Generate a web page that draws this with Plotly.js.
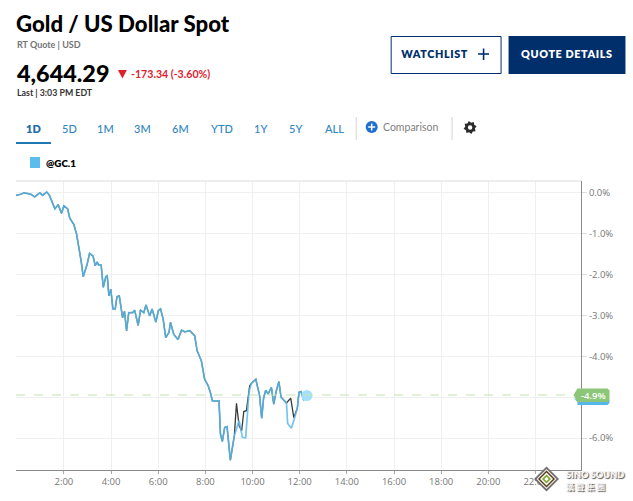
<!DOCTYPE html>
<html><head><meta charset="utf-8">
<script src="https://cdn.plot.ly/plotly-3.0.1.min.js"></script>
<style>html,body{margin:0;padding:0;background:#fff}#chart{width:633px;height:501px}</style>
</head><body><div id="chart"></div>
<script>
// Shared part of both series up to the first split
const hoursA=[-0.03,0.14,0.31,0.47,0.59,0.76,0.98,1.10,1.27,1.38,1.49,1.62,1.76,1.90,2.00,2.16,2.25,2.42,2.54,2.65,2.73,2.82,2.99,3.09,3.24,3.33,3.41,3.47,3.58,3.67,3.78,3.84,3.91,3.99,4.08,4.18,4.25,4.35,4.49,4.57,4.66,4.75,4.92,5.00,5.15,5.25,5.39,5.48,5.64,5.74,5.90,6.01,6.10,6.21,6.32,6.46,6.52,6.66,6.84,6.99,7.13,7.34,7.55,7.65,7.83,7.97,8.12,8.21,8.30,8.58,8.64,8.72,8.82,8.92,9.06,9.23];
const pctA=[-0.06,-0.04,0,-0.02,-0.03,-0.10,0,-0.06,0.02,-0.05,-0.21,-0.39,-0.29,-0.50,-0.32,-0.39,-0.62,-0.77,-1.01,-1.34,-1.66,-2.05,-1.74,-1.48,-1.55,-1.78,-1.69,-1.76,-1.76,-2.31,-2.05,-2.03,-2.52,-2.36,-2.84,-2.84,-2.54,-2.52,-3.05,-2.90,-3.37,-2.93,-2.93,-2.87,-3.24,-2.87,-2.93,-2.74,-3.01,-2.84,-3.16,-2.88,-2.84,-3.09,-3.54,-3.41,-3.17,-3.46,-3.59,-3.36,-3.40,-3.37,-3.50,-3.86,-4.11,-4.56,-4.72,-4.88,-5.09,-5.09,-5.90,-6.08,-5.74,-5.72,-6.54,-5.94];
// First split
const hoursBlue1=[9.43,9.57,9.71,9.85];
const pctBlue1=[-5.57,-5.98,-5.99,-4.88];
const hoursDark1=[9.32,9.43,9.54,9.63,9.74,9.88];
const pctDark1=[-5.15,-5.70,-5.82,-5.35,-5.33,-4.72];
// Shared middle
const hoursB=[9.95,10.14,10.25,10.30,10.39,10.47,10.56,10.66,10.80,10.90,11.01,11.12,11.21,11.44];
const pctB=[-4.66,-4.56,-4.84,-4.96,-5.51,-5.02,-4.83,-4.92,-4.76,-5.17,-4.84,-4.62,-5.00,-5.14];
// Second split
const hoursBlue2=[11.49,11.65,11.83];
const pctBlue2=[-5.64,-5.76,-5.41];
const hoursDark2=[11.62,11.75];
const pctDark2=[-5.02,-5.50];
// Shared tail
const hoursC=[11.90,11.97,12.06,12.17,12.31];
const pctC=[-5.27,-4.88,-4.86,-5.07,-4.96];

const xTicks=[2,4,6,8,10,12,14,16,18,20,22];
const xLabels=['2:00','4:00','6:00','8:00','10:00','12:00','14:00','16:00','18:00','20:00','22:00'];
const yTicks=[0,-1,-2,-3,-4,-5,-6];
const yLabels=['0.0%','-1.0%','-2.0%','-3.0%','-4.0%','','-6.0%'];
const tabs=['1D','5D','1M','3M','6M','YTD','1Y','5Y','ALL'];
const tabCenters=[33.7,70,106,143,181,222,261,296,335];

const L=16,R=581.5,T=181,B=470,W=633,H=501;
const X=p=>(p-L)/(R-L), Y=p=>(B-p)/(B-T);
const head='"Lato","Inter",sans-serif';
const body='"Open Sans","Lato",sans-serif';
const txt=(s,px,py,size,color,weight,anchor,fam,extra)=>Object.assign({text:s,xref:'paper',yref:'paper',x:X(px),y:Y(py),showarrow:false,xanchor:anchor||'left',yanchor:'middle',xshift:0,yshift:0,borderpad:0,
  font:{family:fam||head,size:size,color:color,weight:weight||400}},extra||{});
const ppath=pts=>'M'+pts.map(p=>X(p[0]).toFixed(5)+','+Y(p[1]).toFixed(5)).join('L')+'Z';
const rect=(x0,y0,x1,y1,fill,lc,lw,layer)=>({type:'rect',xref:'paper',yref:'paper',x0:X(x0),x1:X(x1),y0:Y(y0),y1:Y(y1),fillcolor:fill,line:{color:lc||fill,width:lw===undefined?0:lw},layer:layer||'above'});
const line=(x0,y0,x1,y1,c,w,dash)=>({type:'line',xref:'paper',yref:'paper',x0:X(x0),x1:X(x1),y0:Y(y0),y1:Y(y1),line:{color:c,width:w,dash:dash||'solid'},layer:'above'});
const circle=(cx,cy,r,fill,lc,lw)=>({type:'circle',xref:'paper',yref:'paper',x0:X(cx-r),x1:X(cx+r),y0:Y(cy+r),y1:Y(cy-r),fillcolor:fill,line:{color:lc||fill,width:lw||0},layer:'above'});
const poly=(pts,fill,lc,lw)=>({type:'path',xref:'paper',yref:'paper',path:ppath(pts),fillcolor:fill,line:{color:lc||fill,width:lw||0},layer:'above'});
const diamond=(cx,cy,r)=>[[cx,cy-r],[cx+r,cy],[cx,cy+r],[cx-r,cy]];

const annotations=[
 txt('Gold / US Dollar Spot',15,23,22.2,'#000',900),
 txt('RT Quote | USD',16,44.5,9,'#747474',700),
 txt('4,644.29',15.5,73,23.4,'#000',900),
 txt('-173.34 (-3.60%)',130,74,10.6,'#d8232f',700),
 txt('Last | 3:03 PM EDT',16,92.5,8.8,'#333',700),
 txt('WATCHLIST',403,54,10.8,'#002f6c',800),
 txt('QUOTE DETAILS',567.5,54,10.8,'#fff',800,'center'),
 txt('Comparison',382,127,10.5,'#808080',400),
 txt('@GC.1',45,163,9.8,'#000',800),
 txt('-4.9%',594,395,9.5,'#fff',600,'center',body),
 txt('SINO SOUND',565,474,9.2,'#f4f4f4',800,'left',head,{}),
 txt('漢 聲 集 團',565,485.5,8.4,'#f4f4f4',700,'left','"Noto Sans CJK TC"',{})
];
annotations[10].font.shadow='1px 1px 1px #555';
annotations[11].font.shadow='1px 1px 1px #555';
tabs.forEach((t,i)=>annotations.push(txt(t,tabCenters[i],128,11,i===0?'#1f6ea8':'#2f86c1',i===0?800:500,'center')));

const gearPts=[];
for(let i=0;i<16;i++){const a=i*Math.PI/8+Math.PI/16,r=i%2?6.6:4.9;gearPts.push([470.5+r*Math.cos(a),127.5+r*Math.sin(a)]);}
const shapes=[
 line(L,181,R,181,'#dcdcdc',1),
 line(L,395,574,395,'#c3e3b0',1,'dash'),
 poly([[118,70],[127,70],[122.5,78.5]],'#d8232f'),
 rect(391.5,36.5,501.5,73.5,'#fff','#002f6c',1),
 line(484,48.5,484,60,'#002f6c',1.6),
 line(478.5,54,489.5,54,'#002f6c',1.6),
 rect(509,36,626,74,'#002f6c'),
 rect(16,142,51,144,'#1f77b4'),
 line(356.5,117,356.5,140,'#d4d4d4',1),
 line(452.5,117,452.5,140,'#d4d4d4',1),
 circle(372,127,6,'#1f6fd0'),
 line(372,123.5,372,130.5,'#fff',1.5),
 line(368.5,127,375.5,127,'#fff',1.5),
 poly(gearPts,'#2b2b2b'),
 circle(470.5,127.5,2.2,'#fff'),
 rect(30,157,40,168,'#5cbcec'),
 // y-value flag
 poly([[574,398],[578,402],[578,405],[608,405],[610,403],[610,400],[578,400]],'#56b8ea'),
 poly([[574,395],[578,388.5],[608,388.5],[610,390.5],[610,400],[608,402],[578,402]],'#8cc679'),
 // watermark logo
 poly(diamond(547,479,12.5),'#6e6e6e'),
 poly(diamond(547,479,10),'#f1f1f1'),
 poly(diamond(547,479,8.5),'#5b3d14'),
 poly(diamond(547,479,6.5),'#ffffff'),
 poly(diamond(547,479,4.5),'#7da82f'),
 poly(diamond(547,479,2.2),'#ffffff')
];

const darkX=hoursA.concat(hoursDark1,hoursB,hoursDark2,hoursC);
const darkY=pctA.concat(pctDark1,pctB,pctDark2,pctC);
const blueX=hoursA.concat(hoursBlue1,hoursB,hoursBlue2,hoursC);
const blueY=pctA.concat(pctBlue1,pctB,pctBlue2,pctC);

const data=[
 {type:'scatter',mode:'lines',x:darkX,y:darkY,line:{color:'#3a3a3a',width:1.3},hoverinfo:'skip',showlegend:false},
 {type:'scatter',mode:'lines',x:blueX,y:blueY,line:{color:'#5cbcec',width:1.7},opacity:0.85,hoverinfo:'skip',showlegend:false},
 {type:'scatter',mode:'markers',x:hoursC.slice(-1),y:pctC.slice(-1),marker:{color:'#a4e0fb',size:11},cliponaxis:false,hoverinfo:'skip',showlegend:false}
];
const layout={
 width:W,height:H,autosize:false,showlegend:false,
 paper_bgcolor:'#fff',plot_bgcolor:'#fff',
 margin:{l:L,r:W-R,t:T,b:H-B,pad:0},
 xaxis:{range:[-0.03,23.93],tickmode:'array',tickvals:xTicks,ticktext:xLabels,showgrid:true,gridcolor:'#f0f0f0',gridwidth:1,zeroline:false,
  showline:true,linecolor:'#8a8a8a',linewidth:1,ticks:'outside',ticklen:3,tickcolor:'#aaa',tickfont:{family:body,size:9.5,color:'#777'},automargin:false},
 yaxis:{range:[-6.78,0.29],side:'right',tickmode:'array',tickvals:yTicks,ticktext:yLabels,showgrid:true,gridcolor:'#f0f0f0',gridwidth:1,zeroline:false,
  showline:true,linecolor:'#8a8a8a',linewidth:1,ticks:'outside',ticklen:5,tickcolor:'#ddd',tickfont:{family:body,size:9.5,color:'#777'},automargin:false},
 shapes:shapes,annotations:annotations
};
Plotly.newPlot('chart',data,layout,{displayModeBar:false,staticPlot:true}).then(()=>{
 document.querySelectorAll('.annotation-text').forEach(el=>{
  const t=el.textContent;
  if(t==='WATCHLIST'||t==='QUOTE DETAILS'){el.style.letterSpacing='0.6px';}
 });
});
</script></body></html>
